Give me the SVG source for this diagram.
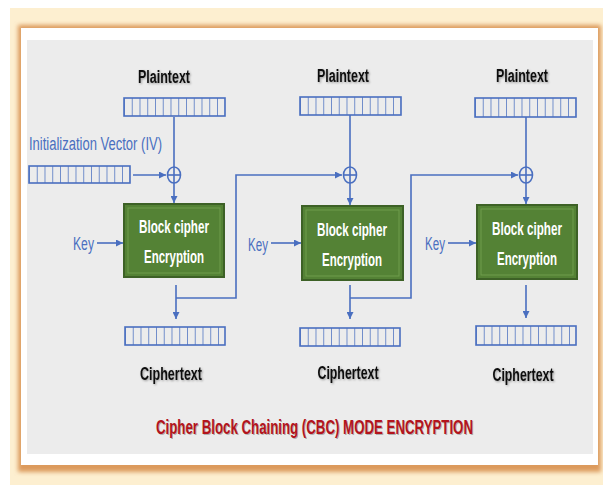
<svg xmlns="http://www.w3.org/2000/svg" width="603" height="485" viewBox="0 0 603 485">
<defs>
<style>
.reg{fill:none;stroke:#4a6fc0;stroke-width:1.6}
.ln{fill:none;stroke:#4a6fc0;stroke-width:1.6}
.lbl{font-family:"Liberation Sans",Arial,sans-serif;font-weight:bold;font-size:18px;fill:#111;text-anchor:middle}
.blue{font-family:"Liberation Sans",Arial,sans-serif;font-size:18px;fill:#4a6fc0}
.bt{font-family:"Liberation Sans",Arial,sans-serif;font-weight:bold;font-size:18px;fill:#fff;text-anchor:middle}
.blk{fill:#548235;stroke:#3d6126;stroke-width:2}
.blkin{fill:none;stroke:#6e9c4c;stroke-width:1}
.title{font-family:"Liberation Sans",Arial,sans-serif;font-weight:bold;font-size:13.5px;fill:#b3141c}
.tshadow{font-family:"Liberation Sans",Arial,sans-serif;font-weight:bold;font-size:13.5px;fill:#000;opacity:0.25}
</style>
<marker id="ah" viewBox="0 0 10 10" refX="10" refY="5" markerWidth="7" markerHeight="7" markerUnits="userSpaceOnUse" orient="auto">
<path d="M0,0 L10,5 L0,10 z" fill="#4a6fc0"/>
</marker>
<filter id="blur" x="-5%" y="-5%" width="110%" height="110%"><feGaussianBlur stdDeviation="2"/></filter>
<filter id="ts" x="-20%" y="-60%" width="140%" height="220%"><feDropShadow dx="1" dy="1" stdDeviation="0.8" flood-color="#000" flood-opacity="0.35"/></filter>
<pattern id="cells" x="0" y="0" width="7.75" height="20" patternUnits="userSpaceOnUse">
<line x1="0" y1="0" x2="0" y2="20" stroke="#4a6fc0" stroke-width="1.5"/>
</pattern>
</defs>
<rect x="0" y="0" width="603" height="485" fill="#ffffff"/>
<rect x="10" y="8" width="593" height="477" fill="#fdefd0"/>
<rect x="18" y="25" width="583" height="447" fill="#dc9a5c" filter="url(#blur)"/>
<rect x="21" y="28" width="577" height="437" fill="#ffffff"/>
<rect x="27" y="40" width="566" height="414" fill="#ececec"/>

<g id="title">
<text class="tshadow" transform="translate(157,435) scale(1,1.55)" x="0" y="0" textLength="317" lengthAdjust="spacingAndGlyphs">Cipher Block Chaining (CBC) MODE ENCRYPTION</text>
<text class="title" transform="translate(156,434) scale(1,1.55)" x="0" y="0" textLength="317" lengthAdjust="spacingAndGlyphs">Cipher Block Chaining (CBC) MODE ENCRYPTION</text>
</g>

<g id="iv">
<text class="blue" x="29" y="150" textLength="133" lengthAdjust="spacingAndGlyphs">Initialization Vector (IV)</text>
<g transform="translate(29,166)"><rect width="101" height="17" fill="url(#cells)"/><rect class="reg" width="101" height="17"/></g>
</g>

<g id="col1">
<text class="lbl" x="164" y="83" textLength="52" lengthAdjust="spacingAndGlyphs" filter="url(#ts)">Plaintext</text>
<g transform="translate(124,98)"><rect width="101" height="18" fill="url(#cells)"/><rect class="reg" width="101" height="18"/></g>
<ellipse class="ln" cx="174" cy="175" rx="6.5" ry="8"/>
<line class="ln" x1="167.5" y1="175" x2="180.5" y2="175"/><line class="ln" x1="174" y1="167" x2="174" y2="183"/>
<rect class="blk" x="124" y="204" width="100" height="73"/>
<rect class="blkin" x="128" y="208" width="92" height="65"/>
<text class="bt" x="174" y="233" textLength="70" lengthAdjust="spacingAndGlyphs">Block cipher</text>
<text class="bt" x="174" y="263" textLength="60" lengthAdjust="spacingAndGlyphs">Encryption</text>
<text class="blue" x="73" y="250" textLength="21" lengthAdjust="spacingAndGlyphs">Key</text>
<g transform="translate(125,327)"><rect width="100" height="18" fill="url(#cells)"/><rect class="reg" width="100" height="18"/></g>
<text class="lbl" x="171" y="380" textLength="62" lengthAdjust="spacingAndGlyphs" filter="url(#ts)">Ciphertext</text>
</g>

<g id="col2">
<text class="lbl" x="343" y="82" textLength="52" lengthAdjust="spacingAndGlyphs" filter="url(#ts)">Plaintext</text>
<g transform="translate(300,97)"><rect width="101" height="18" fill="url(#cells)"/><rect class="reg" width="101" height="18"/></g>
<ellipse class="ln" cx="350" cy="175" rx="6.5" ry="8"/>
<line class="ln" x1="343.5" y1="175" x2="356.5" y2="175"/><line class="ln" x1="350" y1="167" x2="350" y2="183"/>
<rect class="blk" x="302" y="206" width="101" height="74"/>
<rect class="blkin" x="306" y="210" width="93" height="66"/>
<text class="bt" x="352" y="236" textLength="70" lengthAdjust="spacingAndGlyphs">Block cipher</text>
<text class="bt" x="352" y="266" textLength="60" lengthAdjust="spacingAndGlyphs">Encryption</text>
<text class="blue" x="248" y="251" textLength="20" lengthAdjust="spacingAndGlyphs">Key</text>
<g transform="translate(300,328)"><rect width="100" height="18" fill="url(#cells)"/><rect class="reg" width="100" height="18"/></g>
<text class="lbl" x="348" y="379" textLength="61" lengthAdjust="spacingAndGlyphs" filter="url(#ts)">Ciphertext</text>
</g>

<g id="col3">
<text class="lbl" x="522" y="82" textLength="52" lengthAdjust="spacingAndGlyphs" filter="url(#ts)">Plaintext</text>
<g transform="translate(475,98)"><rect width="101" height="19" fill="url(#cells)"/><rect class="reg" width="101" height="19"/></g>
<ellipse class="ln" cx="526" cy="175" rx="6.5" ry="8"/>
<line class="ln" x1="519.5" y1="175" x2="532.5" y2="175"/><line class="ln" x1="526" y1="167" x2="526" y2="183"/>
<rect class="blk" x="477" y="205" width="100" height="74"/>
<rect class="blkin" x="481" y="209" width="92" height="66"/>
<text class="bt" x="527" y="235" textLength="70" lengthAdjust="spacingAndGlyphs">Block cipher</text>
<text class="bt" x="527" y="265" textLength="60" lengthAdjust="spacingAndGlyphs">Encryption</text>
<text class="blue" x="425" y="250" textLength="20" lengthAdjust="spacingAndGlyphs">Key</text>
<g transform="translate(476,326)"><rect width="100" height="19" fill="url(#cells)"/><rect class="reg" width="100" height="19"/></g>
<text class="lbl" x="523" y="381" textLength="61" lengthAdjust="spacingAndGlyphs" filter="url(#ts)">Ciphertext</text>
</g>

<g id="connectors">
<line class="ln" x1="133" y1="175" x2="166" y2="175" marker-end="url(#ah)"/>
<line class="ln" x1="174" y1="117" x2="174" y2="167"/>
<line class="ln" x1="174" y1="183" x2="174" y2="203" marker-end="url(#ah)"/>
<line class="ln" x1="97" y1="243" x2="123" y2="243" marker-end="url(#ah)"/>
<line class="ln" x1="176" y1="285" x2="176" y2="319" marker-end="url(#ah)"/>
<polyline class="ln" points="176,298 236,298 236,175 342,175" marker-end="url(#ah)"/>

<line class="ln" x1="350" y1="115" x2="350" y2="167"/>
<line class="ln" x1="350" y1="183" x2="350" y2="205" marker-end="url(#ah)"/>
<line class="ln" x1="271" y1="243" x2="301" y2="243" marker-end="url(#ah)"/>
<line class="ln" x1="350" y1="285" x2="350" y2="319" marker-end="url(#ah)"/>
<polyline class="ln" points="350,298 411,298 411,175 518,175" marker-end="url(#ah)"/>

<line class="ln" x1="526" y1="117" x2="526" y2="167"/>
<line class="ln" x1="526" y1="183" x2="526" y2="204" marker-end="url(#ah)"/>
<line class="ln" x1="448" y1="243" x2="476" y2="243" marker-end="url(#ah)"/>
<line class="ln" x1="526" y1="285" x2="526" y2="318" marker-end="url(#ah)"/>
</g>
</svg>
